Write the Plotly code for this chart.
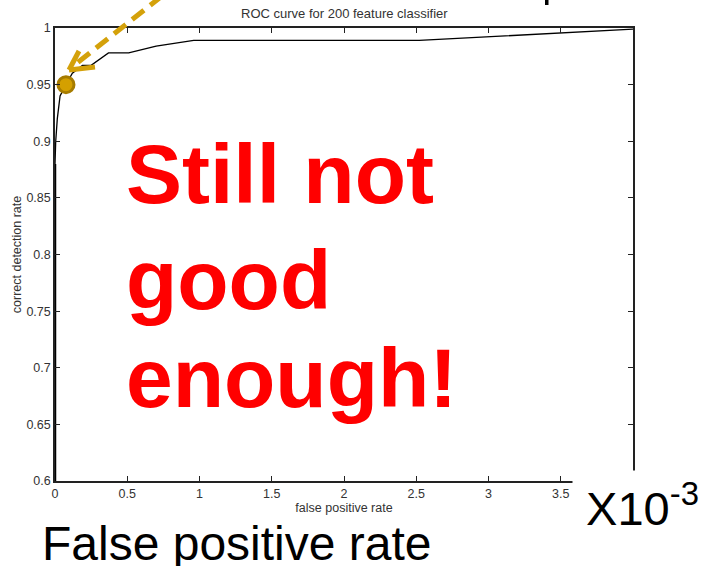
import plotly.graph_objects as go

# ROC curve data (false positive rate in units of 1e-3, correct detection rate)
fpr = [0, 0, 0.005, 0.016, 0.035, 0.076, 0.12, 0.19, 0.25, 0.37, 0.51, 0.70, 0.96, 2.52, 4.0]
tpr = [0.6, 0.88, 0.9, 0.92, 0.94, 0.95, 0.96, 0.967, 0.967, 0.978, 0.978, 0.984, 0.989, 0.989, 0.999]

# highlighted operating point
pt_fpr = [0.076]
pt_tpr = [0.95]

x_ticks = [0, 0.5, 1, 1.5, 2, 2.5, 3, 3.5]
x_ticklabels = ["0", "0.5", "1", "1.5", "2", "2.5", "3", "3.5"]
y_ticks = [0.6, 0.65, 0.7, 0.75, 0.8, 0.85, 0.9, 0.95, 1]
y_ticklabels = ["0.6", "0.65", "0.7", "0.75", "0.8", "0.85", "0.9", "0.95", "1"]

W, H = 704, 566
L, R, T, B = 55, 71, 28, 85
PW, PH = W - L - R, H - T - B


def px(x):
    return (x - L) / PW


def py(y):
    return (H - B - y) / PH


FONT = "Liberation Sans, Arial, sans-serif"
GOLD = "#D4A10A"
SMALL = 12.5

fig = go.Figure()

# thick low segment along the axis
fig.add_trace(go.Scatter(x=fpr[:2], y=tpr[:2], mode="lines",
                         line=dict(color="black", width=2.5), showlegend=False, hoverinfo="skip"))
fig.add_trace(go.Scatter(x=fpr[1:], y=tpr[1:], mode="lines",
                         line=dict(color="black", width=1.3), showlegend=False))
fig.add_trace(go.Scatter(x=pt_fpr, y=pt_tpr, mode="markers",
                         marker=dict(size=16, color="#D4A000", line=dict(color="#A67C00", width=3)),
                         showlegend=False, cliponaxis=False))

axis_common = dict(showgrid=False, zeroline=False, ticks="inside", ticklen=5, tickwidth=1,
                   tickcolor="#222", showline=True, linecolor="#222", linewidth=1.5, mirror="ticks",
                   tickfont=dict(family=FONT, size=SMALL, color="#333"))

fig.update_xaxes(range=[0, 4], tickvals=x_ticks, ticktext=x_ticklabels,
                 title=dict(text="false positive rate", font=dict(family=FONT, size=SMALL, color="#333"),
                            standoff=0),
                 **axis_common)
fig.update_yaxes(range=[0.6, 1], tickvals=y_ticks, ticktext=y_ticklabels,
                 title=dict(text="correct detection rate", font=dict(family=FONT, size=SMALL, color="#333"),
                            standoff=2),
                 **axis_common)

shapes = []
# dashed arrow line
shapes.append(dict(type="line", xref="paper", yref="paper",
                   x0=px(162), y0=py(-4), x1=px(72), y1=py(67),
                   line=dict(color=GOLD, width=5, dash="15px,8px")))
# chevron arrowhead
shapes.append(dict(type="line", xref="paper", yref="paper",
                   x0=px(69), y0=py(70), x1=px(79), y1=py(51), line=dict(color=GOLD, width=5)))
shapes.append(dict(type="line", xref="paper", yref="paper",
                   x0=px(69), y0=py(70), x1=px(95), y1=py(67), line=dict(color=GOLD, width=5)))
# fragment of a heading letter at top
shapes.append(dict(type="rect", xref="paper", yref="paper",
                   x0=px(545), y0=py(0), x1=px(548.5), y1=py(5), fillcolor="black", line=dict(width=0)))
fig.update_layout(shapes=shapes)

annotations = [
    dict(text="ROC curve for 200 feature classifier", x=0.5, y=py(13), xref="paper", yref="paper",
         showarrow=False, font=dict(family=FONT, size=13, color="#333"), xanchor="center", yanchor="middle"),
    dict(text="<b>Still not</b>", x=px(124), y=py(174), xref="paper", yref="paper", showarrow=False,
         font=dict(family=FONT, size=84, color="#FF0000"), xanchor="left", yanchor="middle"),
    dict(text="<b>good</b>", x=px(124), y=py(280), xref="paper", yref="paper", showarrow=False,
         font=dict(family=FONT, size=84, color="#FF0000"), xanchor="left", yanchor="middle"),
    dict(text="<b>enough!</b>", x=px(124), y=py(378), xref="paper", yref="paper", showarrow=False,
         font=dict(family=FONT, size=84, color="#FF0000"), xanchor="left", yanchor="middle"),
    dict(text="X10<sup>-3</sup>", x=px(704), y=py(505), xref="paper", yref="paper", showarrow=False,
         font=dict(family=FONT, size=47, color="black"), xanchor="right", yanchor="middle",
         width=122, align="right", bgcolor="white", borderpad=4),
    dict(text="False positive rate", x=px(40), y=py(543), xref="paper", yref="paper", showarrow=False,
         font=dict(family=FONT, size=48, color="black"), xanchor="left", yanchor="middle"),
]
fig.update_layout(annotations=annotations)

fig.update_layout(width=W, height=H, margin=dict(l=L, r=R, t=T, b=B),
                  plot_bgcolor="white", paper_bgcolor="white", showlegend=False)

fig.write_html("out.html", config={"displayModeBar": False},
               post_script="document.body.style.margin='0';")
